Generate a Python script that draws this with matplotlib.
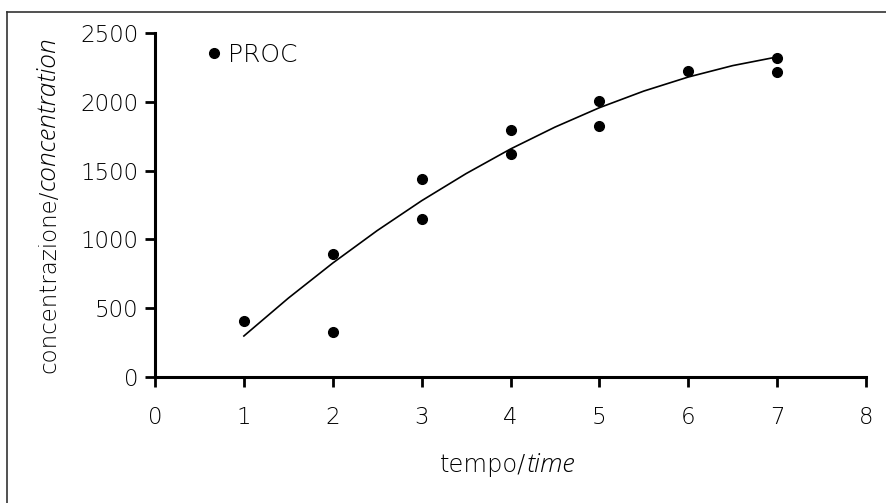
import matplotlib
matplotlib.use('Agg')
from matplotlib import pyplot as plt
from matplotlib.lines import Line2D

plt.rcParams['font.family'] = ['DejaVu Sans']
plt.rcParams['font.weight'] = 'light'

# measured points (PROC)
times = [1, 2, 2, 3, 3, 4, 4, 5, 5, 6, 7, 7]
conc = [405, 894, 327, 1439, 1148, 1795, 1621, 2006, 1824, 2224, 2318, 2217]

# trend line
fit_t = [1, 1.5, 2, 2.5, 3, 3.5, 4, 4.5, 5, 5.5, 6, 6.5, 7]
fit_c = [298, 573, 828, 1064, 1281, 1478, 1657, 1816, 1957, 2078, 2180, 2263, 2326]

x_ticks = [0, 1, 2, 3, 4, 5, 6, 7, 8]
y_ticks = [0, 500, 1000, 1500, 2000, 2500]

fig = plt.figure(figsize=(8.86, 5.03), dpi=100)
ax = fig.add_axes([155 / 886, 1 - 377 / 503, (866 - 155) / 886, (377 - 33) / 503])

ax.plot(times, conc, 'o', color='black', markersize=7, label='PROC', clip_on=False)
ax.plot(fit_t, fit_c, '-', color='black', linewidth=1.2)

ax.set_xlim(0, 8)
ax.set_ylim(0, 2500)
ax.set_xticks(x_ticks)
ax.set_yticks(y_ticks)

for side in ['top', 'right']:
    ax.spines[side].set_visible(False)
for side in ['left', 'bottom']:
    ax.spines[side].set_linewidth(2.2)

ax.tick_params(axis='both', direction='out', width=2, length=7, labelsize=16.5)
ax.tick_params(axis='y', pad=5)
ax.tick_params(axis='x', pad=14)

# axis labels: plain part + italic part, split at the slash
lbl = dict(transform=ax.transAxes, va='baseline', rotation_mode='anchor')
ital = dict(style='italic', family=['Open Sans', 'DejaVu Sans'], fontweight='light')
ax.text(0.522, -0.276, 'tempo/', ha='right', fontsize=17.5, **lbl)
ax.text(0.522, -0.276, 'time', ha='left', fontsize=19, **ital, **lbl)
ax.text(-0.1406, 0.544, 'concentrazione/', ha='right', rotation=90, fontsize=16.5, **lbl)
ax.text(-0.1406, 0.544, 'concentration', ha='left', rotation=90, fontsize=19, **ital, **lbl)

ax.legend(loc='upper left', bbox_to_anchor=(0.045, 1.015), frameon=False, fontsize=18,
          handletextpad=0.05, handlelength=1.0, borderaxespad=0.2)

# outer frame (left and top only)
fig.add_artist(Line2D([7 / 886, 7 / 886], [0, 1 - 12 / 503], color='#333333', linewidth=1.2,
                      transform=fig.transFigure))
fig.add_artist(Line2D([7 / 886, 1], [1 - 12 / 503, 1 - 12 / 503], color='#333333', linewidth=1.2,
                      transform=fig.transFigure))

plt.savefig('out.png', dpi=100)
